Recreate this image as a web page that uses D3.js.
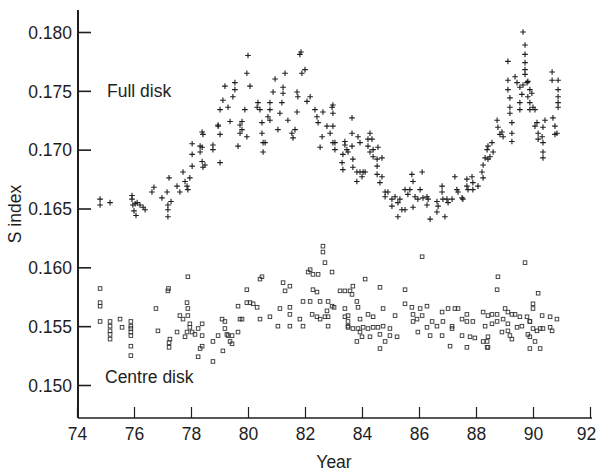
<!DOCTYPE html>
<html lang="en">
<head>
    <meta charset="UTF-8">
    <title>S index</title>
    <script src="https://d3js.org/d3.v7.min.js"></script>
    <style>
        body { margin: 0; background: #fff; }
        svg { display: block; font-family: "Liberation Sans", Arial, Helvetica, sans-serif; }
    </style>
</head>
<body>
    <div class="chart"></div>

    <script>
        const yearTicks = [74, 76, 78, 80, 82, 84, 86, 88, 90, 92];
        const sTicks = [0.150, 0.155, 0.160, 0.165, 0.170, 0.175, 0.180];

        // [year, S index], full disk (+)
        const fullDisk = [
            [74.81,.1658],[74.81,.1653],[75.16,.1655],[75.93,.1661],[75.93,.1658],[75.96,.1653],
            [76.00,.1648],[76.04,.1654],[76.11,.1655],[76.07,.1644],[76.21,.1653],[76.32,.1651],
            [76.39,.1649],[76.63,.1664],[76.70,.1668],[76.98,.1659],[77.16,.1664],[77.30,.1656],
            [77.19,.1649],[77.19,.1643],[77.19,.1653],[77.23,.1676],[77.51,.1669],[77.61,.1664],
            [77.72,.1681],[77.79,.1673],[77.86,.1669],[77.89,.1666],[77.96,.1676],[78.04,.1686],
            [78.04,.1696],[78.04,.1705],[78.32,.1703],[78.32,.1698],[78.39,.1690],[78.42,.1685],
            [78.49,.1687],[78.39,.1715],[78.42,.1713],[78.77,.1704],[78.77,.1700],[79.02,.1689],
            [78.95,.1721],[79.02,.1713],[79.37,.1724],[79.65,.1703],[79.72,.1721],[79.72,.1714],
            [79.79,.1724],[79.96,.1711],[80.49,.1723],[80.49,.1714],[80.53,.1706],[80.53,.1698],
            [80.00,.1780],[81.82,.1781],[81.86,.1783],[79.96,.1765],[80.07,.1754],[82.00,.1768],
            [81.89,.1765],[81.30,.1765],[80.95,.1760],[81.23,.1753],[79.19,.1754],[79.54,.1757],
            [79.54,.1751],[79.47,.1745],[79.12,.1742],[79.02,.1734],[79.30,.1736],[78.95,.1720],
            [79.89,.1734],[79.79,.1717],[80.35,.1740],[80.32,.1736],[80.42,.1734],[80.77,.1740],
            [80.77,.1734],[80.70,.1728],[80.77,.1725],[80.60,.1706],[81.05,.1717],[81.12,.1731],
            [81.19,.1740],[80.88,.1749],[81.23,.1748],[81.40,.1725],[81.54,.1714],[81.65,.1717],
            [81.58,.1710],[81.72,.1749],[81.72,.1732],[81.75,.1745],[82.07,.1741],[82.18,.1745],
            [82.35,.1734],[82.42,.1728],[82.46,.1723],[82.63,.1732],[82.95,.1736],[82.98,.1731],
            [82.77,.1720],[82.88,.1714],[82.60,.1711],[82.53,.1702],[82.98,.1706],[83.40,.1704],
            [83.47,.1700],[78.39,.1702],
            [82.98,.1738],[82.98,.1720],[83.05,.1706],[83.05,.1700],[83.40,.1707],[83.33,.1696],
            [83.30,.1689],[83.33,.1683],[83.51,.1698],[83.65,.1727],[83.65,.1714],[83.65,.1703],
            [83.68,.1692],[83.68,.1685],[83.82,.1681],[83.82,.1673],[83.86,.1711],[83.93,.1706],
            [83.93,.1681],[84.04,.1681],[84.00,.1677],[84.11,.1681],[84.21,.1709],[84.21,.1703],
            [84.28,.1714],[84.28,.1698],[84.35,.1709],[84.39,.1700],[84.39,.1694],[84.53,.1692],
            [84.53,.1686],[84.56,.1702],[84.70,.1693],[84.53,.1679],[84.63,.1672],[84.70,.1677],
            [84.81,.1664],[84.81,.1660],[84.91,.1664],[85.05,.1658],[85.05,.1652],[85.16,.1660],
            [85.26,.1655],[85.26,.1643],[85.33,.1658],[85.40,.1649],[85.51,.1666],[85.51,.1649],
            [85.61,.1662],[85.68,.1666],[85.75,.1679],[85.79,.1673],[85.79,.1651],[85.86,.1660],
            [85.96,.1658],[86.04,.1666],[86.11,.1681],[86.14,.1659],[86.28,.1660],[86.32,.1658],
            [86.28,.1653],[86.39,.1641],[86.63,.1656],[86.67,.1652],[86.63,.1647],[86.81,.1669],
            [86.81,.1664],[86.84,.1658],[86.91,.1643],[86.98,.1658],[87.02,.1655],[87.16,.1658],
            [87.26,.1677],[87.33,.1666],[87.37,.1664],[87.51,.1659],[87.54,.1658],[87.68,.1675],
            [87.68,.1669],[87.72,.1666],[87.86,.1677],[87.89,.1672],[87.89,.1666],[88.07,.1669],
            [88.21,.1681],[88.25,.1687],[88.25,.1676],[88.32,.1693],[88.39,.1700],[88.42,.1692],
            [88.42,.1703],[88.49,.1694],[88.56,.1706],[88.60,.1698],[88.74,.1725],[88.77,.1719],
            [88.84,.1713],[88.91,.1715],[88.95,.1711],[89.12,.1775],[89.12,.1759],[89.12,.1751],
            [89.19,.1744],[89.19,.1736],[89.19,.1731],[89.26,.1723],[89.26,.1714],[89.26,.1707],
            [89.37,.1762],[89.44,.1757],[89.54,.1753],[89.61,.1747],[89.54,.1740],[89.54,.1734],
            [89.65,.1800],[89.72,.1789],[89.72,.1781],[89.72,.1774],[89.72,.1768],[89.72,.1764],
            [89.65,.1755],[89.79,.1757],[89.82,.1758],[89.89,.1751],[89.82,.1745],[89.89,.1740],
            [89.89,.1734],[89.96,.1748],[90.00,.1736],[90.07,.1734],[90.14,.1723],[90.07,.1720],
            [90.18,.1714],[90.18,.1709],[90.32,.1711],[90.35,.1719],[90.35,.1706],[90.35,.1698],
            [90.35,.1693],[90.42,.1725],[90.67,.1766],[90.67,.1759],[90.70,.1727],[90.77,.1720],
            [90.84,.1714],[90.77,.1713],[90.88,.1759],[90.88,.1751],[90.88,.1745],[90.88,.1740],
            [90.88,.1736]
        ];

        // [year, S index], centre disk (squares)
        const centreDisk = [
            [74.81,.1582],[74.81,.1570],[74.81,.1567],[74.81,.1554],[75.16,.1554],[75.16,.1550],
            [75.16,.1546],[75.16,.1543],[75.16,.1539],[75.51,.1556],[75.58,.1549],[75.89,.1554],
            [75.89,.1550],[75.89,.1548],[75.89,.1545],[75.89,.1542],[75.89,.1533],[75.89,.1525],
            [76.77,.1565],[76.84,.1546],[77.19,.1580],[77.21,.1582],[77.26,.1539],[77.23,.1536],
            [77.23,.1532],[77.51,.1545],[77.61,.1559],[77.72,.1556],[77.79,.1541],[77.89,.1592],
            [77.86,.1570],[77.89,.1565],[77.89,.1559],[77.96,.1552],[77.96,.1549],[78.04,.1545],
            [77.86,.1545],[78.14,.1543],[78.25,.1548],[78.32,.1531],[78.25,.1524],[78.39,.1552],
            [78.39,.1542],[78.39,.1533],[78.77,.1520],[78.77,.1537],[78.95,.1542],[79.09,.1556],
            [79.19,.1554],[79.19,.1548],[79.26,.1543],[79.30,.1542],[79.37,.1537],[79.44,.1542],
            [79.44,.1535],[79.65,.1545],[79.72,.1556],[79.79,.1556],[79.65,.1567],[79.96,.1570],
            [80.07,.1570],[80.18,.1569],[80.32,.1566],[80.42,.1556],[80.42,.1590],[80.49,.1592],
            [79.96,.1581],[79.12,.1529],[80.77,.1558],[81.12,.1565],[81.47,.1566],[81.23,.1587],
            [81.30,.1580],[81.47,.1584],[81.05,.1550],[81.47,.1550],[81.47,.1560],[81.82,.1556],
            [81.93,.1550],[81.93,.1571],[82.18,.1571],[82.53,.1571],[82.81,.1571],[82.95,.1567],
            [82.77,.1563],[82.25,.1560],[82.42,.1558],[82.53,.1556],[82.70,.1558],[82.81,.1558],
            [82.81,.1550],[82.63,.1618],[82.63,.1613],[82.70,.1604],[82.18,.1598],[82.11,.1596],
            [82.28,.1594],[82.46,.1594],[82.95,.1596],[82.28,.1581],[82.42,.1579],[83.40,.1580],
            [83.58,.1580],[83.40,.1565],[83.51,.1559],[83.51,.1550],[86.11,.1609],[84.11,.1590],
            [83.68,.1584],[83.23,.1580],[83.65,.1577],[84.63,.1583],[85.51,.1581],[83.82,.1571],
            [83.02,.1566],[83.86,.1566],[84.74,.1565],[85.51,.1569],[85.75,.1566],[86.04,.1565],
            [86.28,.1567],[86.81,.1562],[87.02,.1565],[87.26,.1565],[87.37,.1565],[87.68,.1560],
            [88.25,.1562],[88.42,.1559],[88.56,.1560],[88.74,.1560],[89.02,.1565],[89.12,.1562],
            [89.26,.1560],[89.37,.1560],[89.54,.1558],[89.79,.1558],[89.89,.1554],[90.32,.1559],
            [90.60,.1558],[90.84,.1556],[83.40,.1558],[83.51,.1554],[83.93,.1556],[84.21,.1560],
            [84.39,.1558],[85.16,.1559],[85.79,.1560],[85.93,.1556],[86.11,.1559],[85.79,.1554],
            [86.46,.1554],[86.84,.1554],[87.16,.1550],[87.51,.1556],[87.68,.1554],[87.89,.1554],
            [88.32,.1550],[88.56,.1552],[88.74,.1554],[88.95,.1556],[89.12,.1552],[89.44,.1549],
            [89.89,.1554],[90.00,.1548],[90.25,.1548],[90.60,.1549],[90.67,.1546],[83.51,.1549],
            [83.68,.1548],[83.86,.1548],[84.04,.1549],[84.21,.1548],[84.39,.1549],[84.56,.1549],
            [84.74,.1550],[84.98,.1548],[83.93,.1545],[84.00,.1541],[84.28,.1541],[84.63,.1543],
            [84.98,.1542],[85.23,.1541],[84.81,.1537],[83.82,.1537],[85.96,.1545],[86.28,.1549],
            [86.39,.1542],[86.63,.1550],[86.81,.1542],[87.16,.1548],[87.51,.1542],[87.79,.1541],
            [87.96,.1540],[88.39,.1537],[88.42,.1541],[88.25,.1537],[88.39,.1532],[88.91,.1545],
            [89.12,.1546],[89.19,.1542],[89.26,.1539],[89.61,.1550],[89.82,.1543],[89.89,.1541],
            [90.14,.1546],[90.35,.1548],[90.07,.1537],[89.89,.1531],[90.25,.1531],[84.63,.1531],
            [87.09,.1533],[87.68,.1532],[88.42,.1532],[88.77,.1592],[88.74,.1581],[89.72,.1604],
            [90.18,.1578],[90.00,.1569],[90.00,.1565]
        ];

        const W = 597, H = 473;
        const axisX = 78, axisY = 418;

        const svg = d3.select('.chart').append('svg')
            .attr('width', W)
            .attr('height', H);

        const x = d3.scaleLinear().domain([74, 92]).range([77, 590]);
        const y = d3.scaleLinear().domain([0.150, 0.180]).range([385, 32]);

        const ink = '#1e1e1e';

        // axis lines
        svg.append('line')
            .attr('x1', axisX).attr('x2', axisX)
            .attr('y1', 10).attr('y2', axisY)
            .attr('stroke', ink).attr('stroke-width', 2);
        svg.append('line')
            .attr('x1', axisX).attr('x2', 592)
            .attr('y1', axisY).attr('y2', axisY)
            .attr('stroke', ink).attr('stroke-width', 1.6);

        // y axis: ticks point inward
        const yAxis = svg.append('g')
            .attr('transform', `translate(${axisX},0)`)
            .call(d3.axisLeft(y).tickValues(sTicks).tickFormat(d3.format('.3f'))
                .tickSize(-13).tickPadding(6));
        yAxis.select('.domain').remove();
        yAxis.selectAll('line').attr('stroke', ink).attr('stroke-width', 1.6);
        yAxis.selectAll('text').attr('font-size', 17.5).attr('fill', ink)
            .attr('dy', '0.36em');

        // x axis: ticks point up
        const xAxis = svg.append('g')
            .attr('transform', `translate(0,${axisY})`)
            .call(d3.axisBottom(x).tickValues(yearTicks).tickFormat(d3.format('d'))
                .tickSize(-11).tickPadding(6));
        xAxis.select('.domain').remove();
        xAxis.selectAll('line').attr('stroke', ink).attr('stroke-width', 1.2);
        xAxis.selectAll('text').attr('font-size', 17.5).attr('fill', ink)
            .attr('dy', '0.9em');
        // last label sits against the page edge
        xAxis.selectAll('text').filter(d => d === 92).attr('dx', -4);

        // full disk: plus signs
        const s = 2.8;
        svg.append('g').selectAll('path')
            .data(fullDisk)
            .enter()
            .append('path')
            .attr('d', d => {
                const px = x(d[0]), py = y(d[1]);
                return `M${px - s},${py}H${px + s}M${px},${py - s}V${py + s}`;
            })
            .attr('stroke', ink)
            .attr('stroke-width', 1.1)
            .attr('fill', 'none');

        // centre disk: open squares
        const q = 3.6;
        svg.append('g').selectAll('rect')
            .data(centreDisk)
            .enter()
            .append('rect')
            .attr('x', d => x(d[0]) - q / 2)
            .attr('y', d => y(d[1]) - q / 2)
            .attr('width', q)
            .attr('height', q)
            .attr('fill', 'none')
            .attr('stroke', '#333')
            .attr('stroke-width', 0.9);

        // labels
        svg.append('text')
            .attr('x', 107).attr('y', 97)
            .attr('font-size', 17.5).attr('fill', ink)
            .text('Full disk');
        svg.append('text')
            .attr('x', 105).attr('y', 383)
            .attr('font-size', 17.5).attr('fill', ink)
            .text('Centre disk');
        svg.append('text')
            .attr('x', 334).attr('y', 468)
            .attr('text-anchor', 'middle')
            .attr('font-size', 17.5).attr('fill', ink)
            .text('Year');
        svg.append('text')
            .attr('transform', 'translate(21,214) rotate(-90)')
            .attr('text-anchor', 'middle')
            .attr('font-size', 17.5).attr('fill', ink)
            .text('S index');
    </script>
</body>
</html>
